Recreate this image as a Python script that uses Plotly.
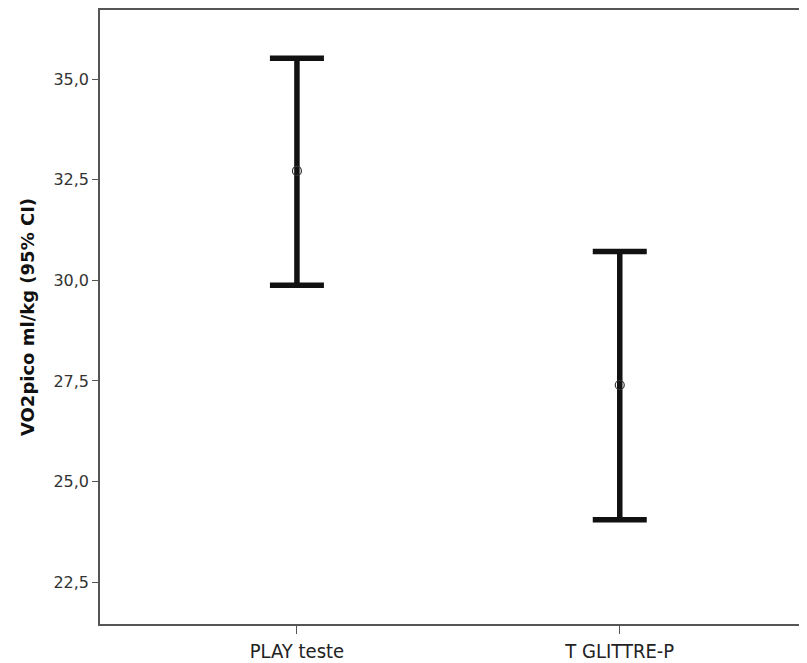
import plotly.graph_objects as go

categories = ["PLAY teste", "T GLITTRE-P"]
means = [32.72, 27.40]
upper = [35.52, 30.72]
lower = [29.88, 24.05]
y_ticks = [22.5, 25.0, 27.5, 30.0, 32.5, 35.0]

err_plus = [u - m for u, m in zip(upper, means)]
err_minus = [m - l for m, l in zip(means, lower)]

fig = go.Figure()
fig.add_trace(go.Scatter(
    x=[0, 1], y=means, mode="markers",
    marker=dict(symbol="circle-open", size=9, color="#333333", line=dict(width=1.2)),
    error_y=dict(type="data", symmetric=False, array=err_plus, arrayminus=err_minus,
                 color="#111111", thickness=5.5, width=27),
    showlegend=False,
))

fig.update_layout(
    width=799, height=655,
    margin=dict(l=92, r=0, t=0, b=37),
    paper_bgcolor="white", plot_bgcolor="white",
    separators=",.",
    xaxis=dict(
        range=[-0.61, 1.58], tickvals=[0, 1], ticktext=categories,
        showgrid=False, zeroline=False,
        showline=True, linecolor="#555555", linewidth=1.5, mirror=True,
        ticks="outside", ticklen=8, tickcolor="#555555", tickwidth=1.2,
        tickfont=dict(family="Liberation Sans Narrow, DejaVu Sans Condensed", size=20, color="#222222"),
    ),
    yaxis=dict(
        range=[21.46, 36.72], tickvals=y_ticks, tickformat=".1f",
        showgrid=False, zeroline=False,
        showline=True, linecolor="#555555", linewidth=1.5,
        ticks="outside", ticklen=6, tickcolor="#555555", tickwidth=1.2,
        tickfont=dict(family="DejaVu Sans", size=16, color="#333333"),
        title=dict(text="VO2pico ml/kg (95% CI)", standoff=14,
                   font=dict(family="DejaVu Sans", size=18, color="#111111", weight="bold")),
    ),
)

fig.write_html("out.html")
